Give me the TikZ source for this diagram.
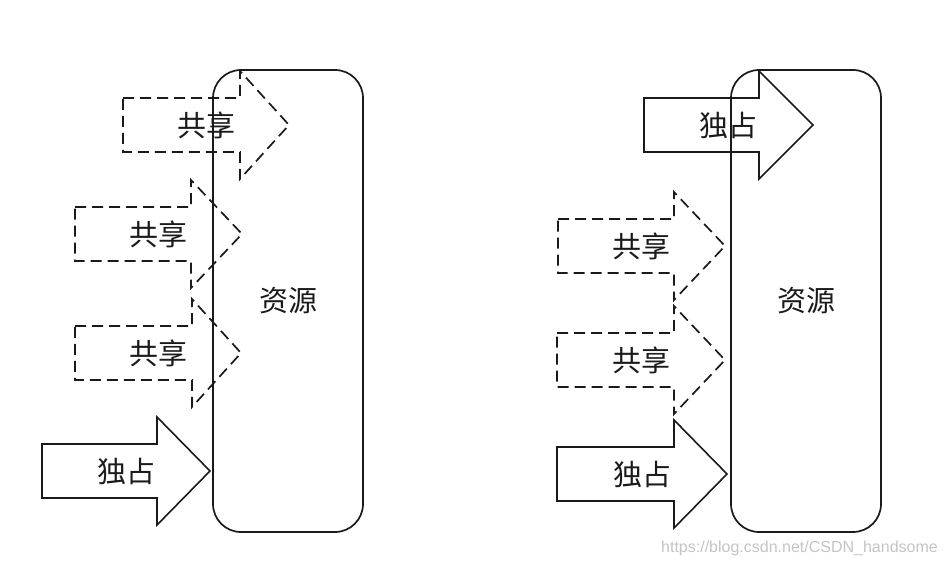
\documentclass[tikz,border=0pt]{standalone}
\usepackage{fontspec}
\newfontfamily\cjkfont{Noto Sans CJK SC}
\setsansfont{Liberation Sans}
\usetikzlibrary{positioning}
\definecolor{lkline}{HTML}{1A1A1A}
\definecolor{lkmark}{HTML}{C4C4C4}
\tikzset{
  resbox/.style={draw=lkline, line width=1.7pt, rounded corners=28pt,
                 minimum width=150pt, minimum height=462pt, inner sep=0pt,
                 font=\cjkfont\fontsize{29}{34}\selectfont, text=lkline},
  excl/.style  ={draw=lkline, line width=1.6pt, line join=miter},
  shrd/.style  ={draw=lkline, line width=1.7pt, dash pattern=on 11pt off 6pt},
  albl/.style  ={inner sep=0pt, font=\cjkfont\fontsize{29}{34}\selectfont,
                 text=lkline},
  wmark/.style ={inner sep=0pt, font=\sffamily\fontsize{16}{18}\selectfont,
                 text=lkmark},
}
% style, name, left x, head base x, tip x, mid y, text
\newcommand{\lockarrow}[7]{%
  \draw[#1] (#3,#6-27) -- (#4,#6-27) -- (#4,#6-54) -- (#5,#6)
    -- (#4,#6+54) -- (#4,#6+27) -- (#3,#6+27) -- cycle;%
  \node[albl] (#2) at ({(#3+#5)/2},#6) {#7};%
}

\begin{document}
\begin{tikzpicture}[x=1pt, y=-1pt]
  \useasboundingbox (0,0) rectangle (950,567);

  % left: several readers at once
  \node[resbox] (resL) at (288,301) {资源};
  \lockarrow{shrd}{shA}{123}{240}{289}{125}{共享}
  \lockarrow{shrd}{shB}{75}{191}{242}{234}{共享}
  \lockarrow{shrd}{shC}{75}{192}{241}{353}{共享}
  \lockarrow{excl}{exA}{42}{157}{210}{471}{独占}

  % right: one writer holds it
  \node[resbox] (resR) at (806,301) {资源};
  \lockarrow{excl}{exB}{644}{759}{813}{125}{独占}
  \lockarrow{shrd}{shD}{558}{674}{725}{246}{共享}
  \lockarrow{shrd}{shE}{557}{674}{725}{360}{共享}
  \lockarrow{excl}{exC}{557}{674}{727}{474}{独占}

  \node[wmark, anchor=east] (mark) at (938,548) {https://blog.csdn.net/CSDN\_handsome};
\end{tikzpicture}
\end{document}
